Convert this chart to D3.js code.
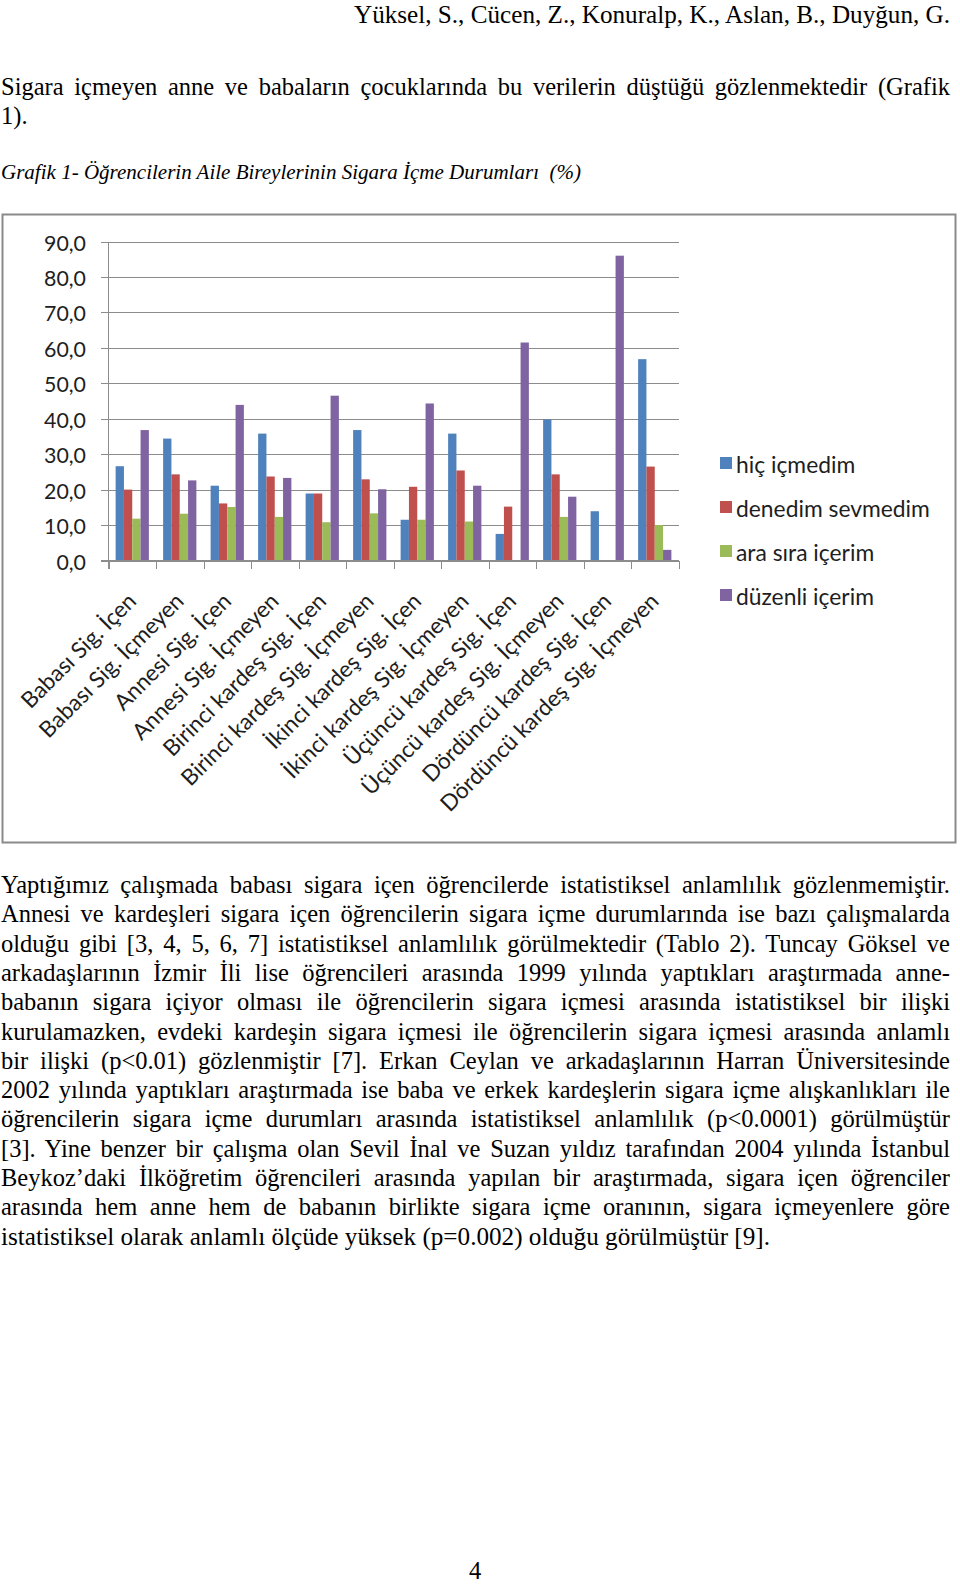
<!DOCTYPE html>
<html>
<head>
<meta charset="utf-8">
<script src="https://cdn.jsdelivr.net/npm/d3@7"></script>
<style>
  html, body { margin: 0; padding: 0; background: #ffffff; }
  svg { display: block; }
</style>
</head>
<body>
<script>
// ---------------- DATA ----------------
const categories = [
  "Babası Sig. İçen", "Babası Sig. İçmeyen", "Annesi Sig. İçen", "Annesi Sig. İçmeyen",
  "Birinci kardeş Sig. İçen", "Birinci kardeş Sig. İçmeyen", "İkinci kardeş Sig. İçen",
  "İkinci kardeş Sig. İçmeyen", "Üçüncü kardeş Sig. İçen", "Üçüncü kardeş Sig. İçmeyen",
  "Dördüncü kardeş Sig. İçen", "Dördüncü kardeş Sig. İçmeyen"
];
const seriesNames = ["hiç içmedim", "denedim sevmedim", "ara sıra içerim", "düzenli içerim"];
const hicIcmedim      = [26.6, 34.4, 21.1, 35.8, 18.9, 36.8, 11.5, 35.8,  7.5, 39.8, 13.9, 56.8];
const denedimSevmedim = [20.0, 24.3, 16.1, 23.7, 18.9, 22.9, 20.8, 25.4, 15.2, 24.3,  0.0, 26.5];
const araSiraIcerim   = [11.8, 13.2, 15.1, 12.3, 10.8, 13.3, 11.5, 11.0,  0.0, 12.3,  0.0, 10.0];
const duzenliIcerim   = [36.8, 22.6, 43.9, 23.3, 46.5, 20.1, 44.3, 21.1, 61.5, 18.0, 86.0,  3.0];
const yTicks = [0, 10, 20, 30, 40, 50, 60, 70, 80, 90];
const seriesColors = ["#4F81BD", "#C0504D", "#9BBB59", "#8064A2"];

const headerText = "Yüksel, S., Cücen, Z., Konuralp, K., Aslan, B., Duyğun, G.";
const introLines = [
  "Sigara içmeyen anne ve babaların çocuklarında bu verilerin düştüğü gözlenmektedir (Grafik",
  "1)."
];
const captionText = "Grafik 1- Öğrencilerin Aile Bireylerinin Sigara İçme Durumları  (%)";
const bodyLines = [
  "Yaptığımız çalışmada babası sigara içen öğrencilerde istatistiksel anlamlılık gözlenmemiştir.",
  "Annesi ve kardeşleri sigara içen öğrencilerin sigara içme durumlarında ise bazı çalışmalarda",
  "olduğu gibi [3, 4, 5, 6, 7] istatistiksel anlamlılık görülmektedir (Tablo 2). Tuncay Göksel ve",
  "arkadaşlarının İzmir İli lise öğrencileri arasında 1999 yılında yaptıkları araştırmada anne-",
  "babanın sigara içiyor olması ile öğrencilerin sigara içmesi arasında istatistiksel bir ilişki",
  "kurulamazken, evdeki kardeşin sigara içmesi ile öğrencilerin sigara içmesi arasında anlamlı",
  "bir ilişki (p<0.01) gözlenmiştir [7]. Erkan Ceylan ve arkadaşlarının Harran Üniversitesinde",
  "2002 yılında yaptıkları araştırmada ise baba ve erkek kardeşlerin sigara içme alışkanlıkları ile",
  "öğrencilerin sigara içme durumları arasında istatistiksel anlamlılık (p<0.0001) görülmüştür",
  "[3]. Yine benzer bir çalışma olan Sevil İnal ve Suzan yıldız tarafından 2004 yılında İstanbul",
  "Beykoz’daki İlköğretim öğrencileri arasında yapılan bir araştırmada, sigara içen öğrenciler",
  "arasında hem anne hem de babanın birlikte sigara içme oranının, sigara içmeyenlere göre",
  "istatistiksel olarak anlamlı ölçüde yüksek (p=0.002) olduğu görülmüştür [9]."
];
const pageNumber = "4";

// ---------------- LAYOUT ----------------
const W = 960, H = 1585;
const serif = "'Liberation Serif', 'Times New Roman', serif";
const sans = "Lato, 'Open Sans', sans-serif";

const svg = d3.select("body").append("svg")
  .attr("width", W).attr("height", H)
  .attr("viewBox", `0 0 ${W} ${H}`);
svg.append("rect").attr("width", W).attr("height", H).attr("fill", "#fff");

function measure(str, family, size, style) {
  const t = svg.append("text").attr("font-family", family).attr("font-size", size)
    .attr("font-style", style || "normal").style("white-space", "pre").text(str);
  const w = t.node().getComputedTextLength();
  t.remove();
  return w;
}
function fitSize(str, family, target, style) {
  return 100 * target / measure(str, family, 100, style);
}

// text line helper: justify by word spacing, or fit by textLength
function textLine(str, x, yb, opts) {
  const o = Object.assign({ size: 22, family: serif, anchor: "start", style: "normal", target: null }, opts);
  const t = svg.append("text")
    .attr("x", x).attr("y", yb)
    .attr("font-family", o.family).attr("font-size", o.size)
    .attr("font-style", o.style)
    .attr("text-anchor", o.anchor)
    .attr("fill", "#000")
    .style("white-space", "pre")
    .text(str);
  if (o.target) {
    const w = t.node().getComputedTextLength();
    const gaps = (str.match(/ /g) || []).length;
    if (o.justify && w < o.target && gaps > 0) {
      t.attr("word-spacing", (o.target - w) / gaps);
    } else {
      t.attr("textLength", o.target).attr("lengthAdjust", "spacingAndGlyphs");
    }
  }
  return t;
}

const bodySize = 24.5;
// Header & intro
textLine(headerText, 950, 23, { anchor: "end", size: bodySize, target: 596 });
textLine(introLines[0], 1, 95, { size: bodySize, target: 949, justify: true });
textLine(introLines[1], 1, 124, { size: bodySize });
textLine(captionText, 1, 179, { size: 20, style: "italic", target: 580 });

// Body paragraph
const bodyTop = 893, bodyStep = 29.3;
bodyLines.forEach((l, i) => {
  const last = i === bodyLines.length - 1;
  textLine(l, 1, bodyTop + i * bodyStep, {
    size: bodySize,
    target: last ? 769 : 949,
    justify: !last
  });
});
textLine(pageNumber, 475, 1579, { size: bodySize, anchor: "middle" });

// ---------------- CHART ----------------
svg.append("rect")
  .attr("x", 2.5).attr("y", 214.5).attr("width", 953).attr("height", 628)
  .attr("fill", "#fff").attr("stroke", "#8a8a8a").attr("stroke-width", 2);

const plotL = 108.5, plotR = 678.5, plotT = 241.5, plotB = 560.5;
const x0 = d3.scaleBand().domain(categories).range([plotL, plotR])
  .paddingInner(0.3).paddingOuter(0.15);
const x1 = d3.scaleBand().domain(seriesNames).range([0, x0.bandwidth()]);
const y = d3.scaleLinear().domain([0, 90]).range([plotB, plotT]);

const chartTextColor = "#1e1e1e";
const gridColor = "#8c8c8c";

// gridlines
svg.append("g").selectAll("line").data(yTicks).join("line")
  .attr("x1", plotL - 8).attr("x2", plotR)
  .attr("y1", d => Math.round(y(d)) + 0.5).attr("y2", d => Math.round(y(d)) + 0.5)
  .attr("stroke", gridColor).attr("stroke-width", 1).attr("shape-rendering", "crispEdges");

// y axis line
svg.append("line")
  .attr("x1", plotL).attr("x2", plotL)
  .attr("y1", Math.round(y(90)) + 0.5).attr("y2", plotB + 8)
  .attr("stroke", gridColor).attr("stroke-width", 1).attr("shape-rendering", "crispEdges");

// category tick marks
const boundaries = d3.range(categories.length + 1).map(i => plotL + i * (plotR - plotL) / categories.length);
svg.append("g").selectAll("line").data(boundaries).join("line")
  .attr("x1", d => Math.round(d) + 0.5).attr("x2", d => Math.round(d) + 0.5)
  .attr("y1", plotB).attr("y2", plotB + 8)
  .attr("stroke", gridColor).attr("stroke-width", 1).attr("shape-rendering", "crispEdges");

// y tick labels
const yFmt = d3.formatLocale({ decimal: ",", thousands: ".", grouping: [3], currency: ["", ""] }).format(".1f");
const ySize = fitSize("90,0", sans, 42);
svg.append("g").selectAll("text").data(yTicks).join("text")
  .attr("x", 86).attr("y", d => y(d) + 1)
  .attr("text-anchor", "end").attr("dominant-baseline", "central")
  .attr("font-family", sans).attr("font-size", ySize)
  .attr("fill", chartTextColor)
  .text(d => yFmt(d));

// bars
const seriesData = [hicIcmedim, denedimSevmedim, araSiraIcerim, duzenliIcerim];
const barData = [];
categories.forEach((c, i) => {
  seriesNames.forEach((s, j) => {
    barData.push({ cat: c, ser: s, v: seriesData[j][i], color: seriesColors[j] });
  });
});
svg.append("g").selectAll("rect").data(barData.filter(d => d.v > 0)).join("rect")
  .attr("x", d => x0(d.cat) + x1(d.ser))
  .attr("y", d => y(d.v))
  .attr("width", x1.bandwidth())
  .attr("height", d => y(0) - y(d.v))
  .attr("fill", d => d.color);

// x-axis baseline on top
svg.append("line")
  .attr("x1", plotL - 8).attr("x2", plotR)
  .attr("y1", plotB).attr("y2", plotB)
  .attr("stroke", gridColor).attr("stroke-width", 1).attr("shape-rendering", "crispEdges");

// rotated category labels
const xSize = fitSize("Dördüncü kardeş Sig. İçmeyen", sans, 298);
svg.append("g").selectAll("text").data(categories).join("text")
  .attr("transform", d => `translate(${x0(d) + x0.bandwidth() / 2 - 6},${591}) rotate(-45)`)
  .attr("text-anchor", "end")
  .attr("dy", "0.72em")
  .attr("font-family", sans).attr("font-size", xSize)
  .attr("fill", chartTextColor)
  .text(d => d);

// legend
const legSize = fitSize("denedim sevmedim", sans, 194);
const leg = svg.append("g").selectAll("g").data(seriesNames).join("g")
  .attr("transform", (d, i) => `translate(720,${463 + i * 44})`);
leg.append("rect").attr("x", 0).attr("y", -6).attr("width", 12).attr("height", 12)
  .attr("fill", (d, i) => seriesColors[i]);
leg.append("text").attr("x", 16).attr("y", 1)
  .attr("dominant-baseline", "central")
  .attr("font-family", sans).attr("font-size", legSize)
  .attr("fill", chartTextColor)
  .text(d => d);
</script>
</body>
</html>
